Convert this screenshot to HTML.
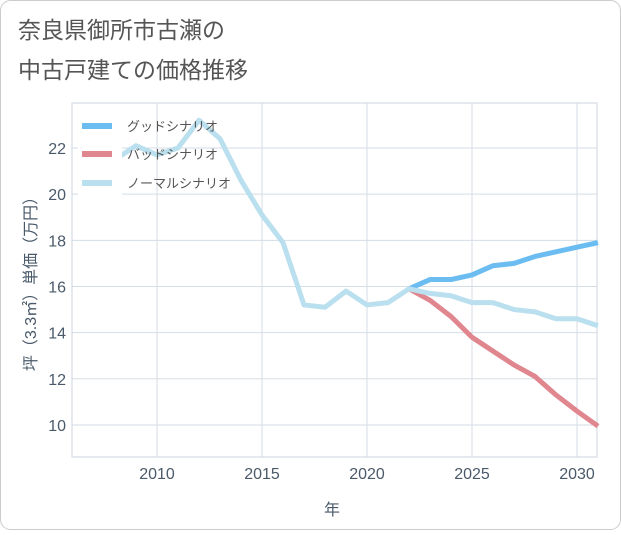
<!DOCTYPE html>
<html><head><meta charset="utf-8"><style>
body{margin:0;background:#fff}
svg{font-family:"Liberation Sans","Noto Sans CJK JP",sans-serif}
</style></head><body>
<svg width="621" height="530">
<rect x="0.5" y="0.5" width="620" height="529" rx="10" fill="#fff" stroke="#ccc"/>
<text x="18" y="38" font-size="23" fill="#555">奈良県御所市古瀬の</text>
<text x="18" y="78" font-size="23" fill="#555">中古戸建ての価格推移</text>
<g id="grid"></g>
<rect x="72" y="103" width="525" height="354" fill="none" stroke="#ccd5dd"/>
<g id="series"></g>
<g id="ticks"></g>
<text x="332" y="515" font-size="16" fill="#4a5a6a" text-anchor="middle">年</text>
<text transform="translate(36,280) rotate(-90)" font-size="16" fill="#4a5a6a" text-anchor="middle">坪（3.3㎡）単価（万円）</text>
<g id="legend"></g>
</svg>
<script>
const years=[2008,2009,2010,2011,2012,2013,2014,2015,2016,2017,2018,2019,2020,2021,2022,2023,2024,2025,2026,2027,2028,2029,2030,2031];
const normal=[21.5,22.1,21.7,22.0,23.2,22.4,20.6,19.1,17.9,15.2,15.1,15.8,15.2,15.3,15.9,15.7,15.6,15.3,15.3,15.0,14.9,14.6,14.6,14.3];
const goodYears=[2022,2023,2024,2025,2026,2027,2028,2029,2030,2031];
const good=[15.9,16.3,16.3,16.5,16.9,17.0,17.3,17.5,17.7,17.9];
const bad=[15.9,15.4,14.7,13.8,13.2,12.6,12.1,11.3,10.6,9.95];
const xTicks=[2010,2015,2020,2025,2030];
const yTicks=[10,12,14,16,18,20,22];
const NS='http://www.w3.org/2000/svg';
const x=v=>157+(v-2010)*21;
const y=v=>148+(22-v)*23.08;
function mk(t,a,p){const e=document.createElementNS(NS,t);for(const k in a)e.setAttribute(k,a[k]);document.getElementById(p).appendChild(e);return e;}
xTicks.forEach(v=>{
 const l=mk('line',{x1:x(v),x2:x(v),y1:103,y2:457,stroke:'#d5dde5'},'grid');
 
 
 const t=mk('text',{x:x(v),y:479,'font-size':16,fill:'#4a5a6a','text-anchor':'middle'},'ticks');t.textContent=v;
 
 
});
yTicks.forEach(v=>{
 const l=mk('line',{x1:72,x2:597,y1:y(v),y2:y(v),stroke:'#d5dde5'},'grid');
 
 
 const t=mk('text',{x:66,y:y(v)+6,'font-size':16,fill:'#4a5a6a','text-anchor':'end'},'ticks');t.textContent=v;
 
 
});
function line(xs,vs,c,n){
 const p=mk('polyline',{points:xs.map((v,i)=>x(v)+','+y(vs[i])).join(' '),fill:'none',stroke:c,'stroke-width':5,'stroke-linejoin':'round'},'series');
 
 
}
line(goodYears,bad,'#e0868e','bad-scenario-line');
line(goodYears,good,'#6bbcf0','good-scenario-line');
line(years,normal,'#badfee','normal-scenario-line');
const bg=mk('rect',{x:78,y:110,width:44,height:90,fill:'#fff'},'legend');


[['グッドシナリオ','#6bbcf0',126],['バッドシナリオ','#e0868e',154],['ノーマルシナリオ','#badfee',183]].forEach(([n,c,yy])=>{
 const l=mk('line',{x1:82,x2:112,y1:yy,y2:yy,stroke:c,'stroke-width':6},'legend');
 
 
 const t=mk('text',{x:127,y:yy+5,'font-size':13,fill:'#555'},'legend');t.textContent=n;
 
 
});
</script>
</body></html>
